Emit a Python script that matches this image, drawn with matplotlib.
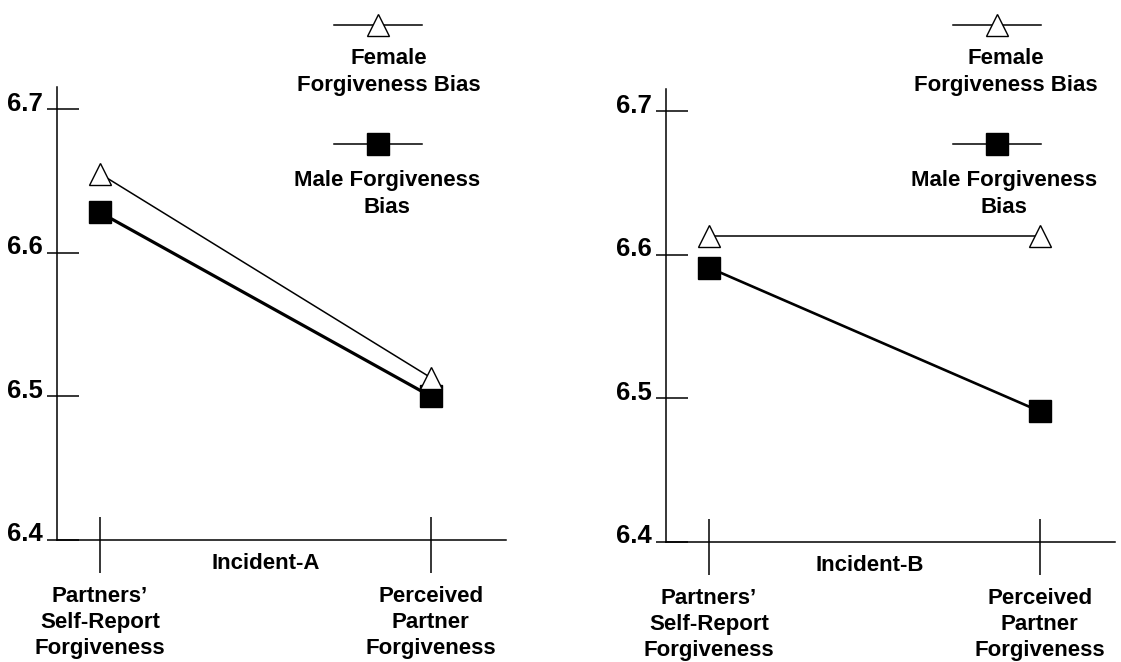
import matplotlib.pyplot as plt
from matplotlib.lines import Line2D
from matplotlib.transforms import ScaledTranslation

plt.rcParams['font.family'] = ['Liberation Sans', 'DejaVu Sans']
plt.rcParams['font.weight'] = 'bold'

# data
categories = ["Partners’\nSelf-Report\nForgiveness", "Perceived\nPartner\nForgiveness"]
incidents = ["Incident-A", "Incident-B"]
female_bias = {"Incident-A": [6.655, 6.513], "Incident-B": [6.613, 6.613]}
male_bias = {"Incident-A": [6.628, 6.500], "Incident-B": [6.591, 6.491]}
yticks = [6.4, 6.5, 6.6, 6.7]
ytick_labels = ["6.4", "6.5", "6.6", "6.7"]

fig = plt.figure(figsize=(11.21, 6.62), dpi=100)

# axes rectangles in figure fraction (left, bottom, width, height)
rects = [(0.0508, 0.1843, 0.4005, 0.684), (0.594, 0.1813, 0.4005, 0.684)]
male_lw = [2.3, 1.9]
x = [0, 1]

for i, inc in enumerate(incidents):
    ax = fig.add_axes(rects[i])
    ax.plot(x, male_bias[inc], color='black', lw=male_lw[i], marker='s', ms=15.5,
            mfc='black', mec='black', zorder=3, clip_on=False)
    ax.plot(x, female_bias[inc], color='black', lw=1.1, marker='^', ms=15.5,
            mfc='white', mec='black', mew=1.0, zorder=4, clip_on=False)

    ax.set_xlim(-0.13, 1.227)
    ax.set_ylim(6.4, 6.7152)
    for s in ['top', 'right']:
        ax.spines[s].set_visible(False)
    for s in ['left', 'bottom']:
        ax.spines[s].set_linewidth(1.1)

    # ticks crossing the axes: major one side, minor the other side
    ax.xaxis.remove_overlapping_locs = False
    ax.yaxis.remove_overlapping_locs = False
    ax.set_yticks(yticks)
    ax.set_yticklabels(ytick_labels, fontsize=18.5, fontweight='bold')
    ax.set_yticks(yticks, minor=True)
    ax.tick_params(axis='y', which='major', direction='in', length=15.8, width=1.1, pad=10)
    ax.tick_params(axis='y', which='minor', direction='out', length=7.2, width=1.1)
    ax.set_xticks(x)
    ax.set_xticklabels(categories, fontsize=16, fontweight='bold', linespacing=1.32)
    ax.set_xticks(x, minor=True)
    ax.tick_params(axis='x', which='major', direction='out', length=23.8, width=1.1, pad=9)
    ax.tick_params(axis='x', which='minor', direction='in', length=16.6, width=1.1)

    off = ScaledTranslation(0, 0.08, fig.dpi_scale_trans)
    for lab in ax.get_yticklabels():
        lab.set_transform(lab.get_transform() + off)

    ax.text(0.465 - 0.011 * i, -0.051, inc, transform=ax.transAxes, ha='center', va='center',
            fontsize=16, fontweight='bold')

# legend drawn by hand: marker over centred text, one per panel
leg_x = [378 / 1121, 997 / 1121]
txt_x = [389 / 1121, 1006 / 1121]
half = 44 / 1121
for i in range(2):
    yf = 1 - 25 / 662
    fig.add_artist(Line2D([leg_x[i] - half, leg_x[i] + half], [yf, yf], color='black', lw=1.1))
    fig.add_artist(Line2D([leg_x[i]], [yf], marker='^', ms=15.5, mfc='white', mec='black', mew=1.0))
    fig.text(txt_x[i], 1 - 72 / 662, "Female\nForgiveness Bias", ha='center', va='center',
             fontsize=16, fontweight='bold', linespacing=1.32)
    ym = 1 - 144 / 662
    fig.add_artist(Line2D([leg_x[i] - half, leg_x[i] + half], [ym, ym], color='black', lw=1.1))
    fig.add_artist(Line2D([leg_x[i]], [ym], marker='s', ms=15.5, mfc='black', mec='black'))
    fig.text(txt_x[i] - 2 / 1121, 1 - 194 / 662, "Male Forgiveness\nBias", ha='center', va='center',
             fontsize=16, fontweight='bold', linespacing=1.32)

fig.savefig('out.png', dpi=100)
